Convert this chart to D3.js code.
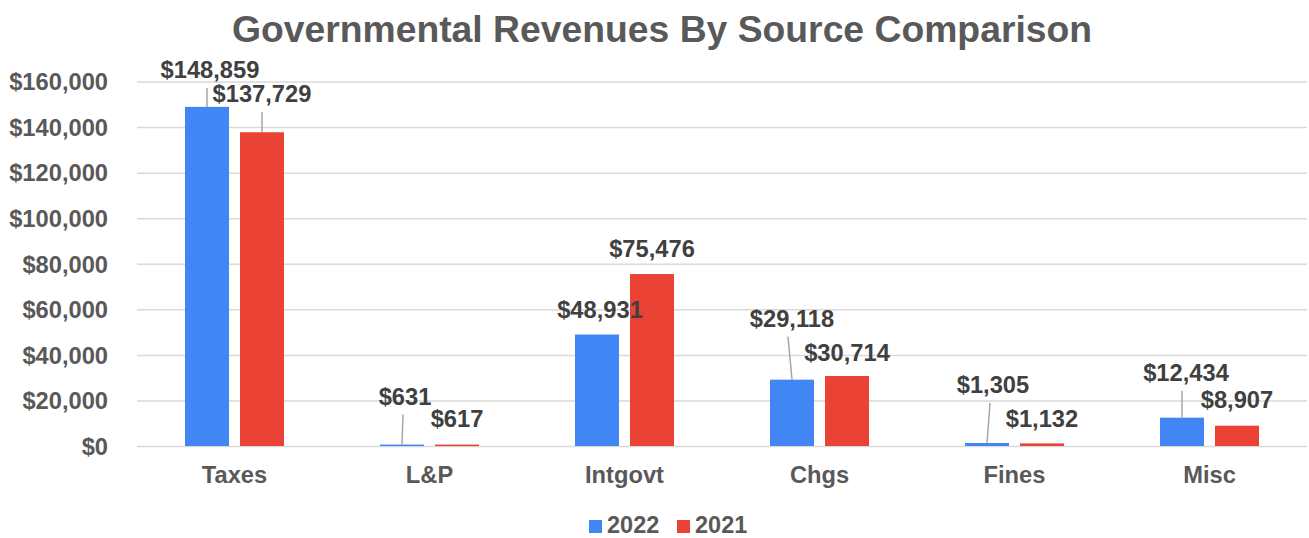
<!DOCTYPE html>
<html>
<head>
<meta charset="utf-8">
<script src="https://cdn.jsdelivr.net/npm/d3@7/dist/d3.min.js"></script>
<style>
  html, body { margin: 0; padding: 0; background: #ffffff; }
  svg { display: block; font-family: "Liberation Sans", Arial, sans-serif; }
</style>
</head>
<body>
<svg id="chart" width="1309" height="538"></svg>
<script>
// ---- data ----
const categories = ["Taxes", "L&P", "Intgovt", "Chgs", "Fines", "Misc"];
const seriesNames = ["2022", "2021"];
const values2022 = [148859, 631, 48931, 29118, 1305, 12434];
const values2021 = [137729, 617, 75476, 30714, 1132, 8907];
const yTickValues = [0, 20000, 40000, 60000, 80000, 100000, 120000, 140000, 160000];
const titleText = "Governmental Revenues By Source Comparison";

// ---- label layout (pixels, separate from data) ----
const labelLift = [[29, 40, 17, 53, 50, 37], [30, 18, 17, 15, 16, 18]];
const labelDx = [[3, 3, 3, 0, 6, 4], [0, 0, 0, 0, 0, 0]];
const leaderDx = [[0, 1, 0, -4, 3, 0], [0, 0, 0, 0, 0, 0]];

const colors = ["#4285F4", "#EA4335"];
const svg = d3.select("#chart");
const plotLeft = 137, plotRight = 1307, plotTop = 81.5, plotBottom = 446;
const fmt = d3.format(",");

const x0 = d3.scaleBand().domain(categories).range([plotLeft, plotRight]).padding(0);
const x1 = d3.scaleBand().domain(seriesNames).range([-49.5, 49.5]).paddingInner(0.2).paddingOuter(0);
const y = d3.scaleLinear().domain([0, 160000]).range([plotBottom, plotTop]);

// title
svg.append("text")
  .attr("x", 662).attr("y", 42)
  .attr("text-anchor", "middle")
  .attr("font-size", "37.3px").attr("font-weight", "bold")
  .attr("fill", "#595959")
  .text(titleText);

// gridlines + y labels
const yAxis = d3.axisLeft(y).tickValues(yTickValues).tickSize(-(plotRight - plotLeft)).tickFormat(d => "$" + fmt(d));
const gy = svg.append("g").attr("transform", `translate(${plotLeft},0)`).call(yAxis);
gy.select(".domain").remove();
gy.selectAll(".tick line").attr("stroke", "#d9d9d9").attr("stroke-width", 1.5);
gy.selectAll(".tick text")
  .attr("x", -29).attr("dy", "0.35em")
  .attr("font-size", "23.7px").attr("font-weight", "bold")
  .attr("fill", "#595959").attr("font-family", "Liberation Sans, Arial, sans-serif");

// x axis labels
const xAxis = d3.axisBottom(x0).tickSize(0);
const gx = svg.append("g").attr("transform", `translate(0,${plotBottom})`).call(xAxis);
gx.select(".domain").remove();
gx.selectAll(".tick text")
  .attr("y", 37).attr("dy", 0)
  .attr("font-size", "23.7px").attr("font-weight", "bold")
  .attr("fill", "#595959").attr("font-family", "Liberation Sans, Arial, sans-serif");

// bars
const allSeries = [values2022, values2021];
const rows = [];
categories.forEach((c, i) => {
  allSeries.forEach((vals, s) => {
    rows.push({ cat: c, i, s, name: seriesNames[s], v: vals[i] });
  });
});

const barX = d => x0(d.cat) + x0.bandwidth() / 2 + x1(d.name);
const barCx = d => barX(d) + x1.bandwidth() / 2;

svg.append("g").selectAll("rect").data(rows).join("rect")
  .attr("x", barX)
  .attr("width", x1.bandwidth())
  .attr("y", d => y(d.v))
  .attr("height", d => Math.max(1.5, y(0) - y(d.v)))
  .attr("fill", d => colors[d.s]);

// leader lines
svg.append("g").selectAll("line").data(rows.filter(d => labelLift[d.s][d.i] > 25)).join("line")
  .attr("x1", d => barCx(d)).attr("y1", d => y(d.v))
  .attr("x2", d => barCx(d) + leaderDx[d.s][d.i])
  .attr("y2", d => y(d.v) - labelLift[d.s][d.i] + 10)
  .attr("stroke", "#a6a6a6").attr("stroke-width", 1.5);

// data labels
svg.append("g").selectAll("text").data(rows).join("text")
  .attr("x", d => barCx(d) + labelDx[d.s][d.i])
  .attr("y", d => y(d.v) - labelLift[d.s][d.i])
  .attr("text-anchor", "middle")
  .attr("font-size", "23.7px").attr("font-weight", "bold")
  .attr("fill", "#404040")
  .text(d => "$" + fmt(d.v));

// legend
const legendX = [589, 677];
const lg = svg.append("g").selectAll("g").data(seriesNames).join("g")
  .attr("transform", (d, i) => `translate(${legendX[i]},520)`);
lg.append("rect").attr("width", 13).attr("height", 13).attr("fill", (d, i) => colors[i]);
lg.append("text").attr("x", 18).attr("y", 13)
  .attr("font-size", "23.5px").attr("font-weight", "bold").attr("fill", "#595959")
  .text(d => d);
</script>
</body>
</html>
